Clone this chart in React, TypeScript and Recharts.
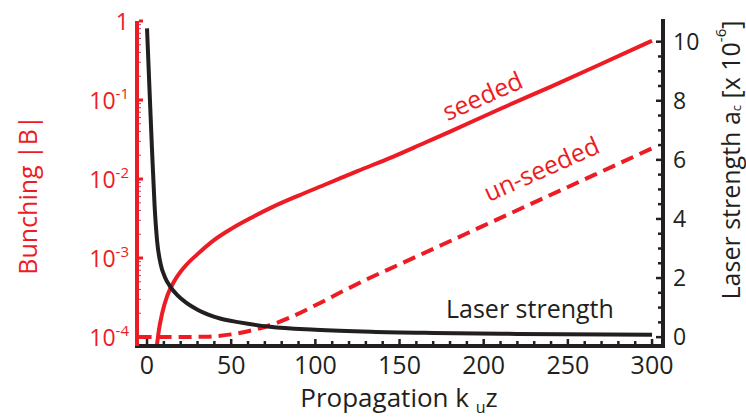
import { ComposedChart, Line, XAxis, YAxis } from 'recharts';

const RED = '#ed1c24';
const INK = '#231f20';
const FONT = '"Open Sans", sans-serif';

// seeded bunching |B| vs propagation k_u z
const seededZ = [5.8, 7, 9, 12, 16, 22, 30, 40, 50, 62, 75, 90, 107, 125, 146, 165, 180, 210, 240, 270, 300];
const seededB = [7.6e-5, 1.2e-4, 2.0e-4, 3.31e-4, 5.0e-4, 7.6e-4, 1.12e-3, 1.7e-3, 2.34e-3, 3.24e-3, 4.47e-3, 6.17e-3, 8.71e-3, 1.26e-2, 1.91e-2, 2.88e-2, 3.98e-2, 7.76e-2, 0.148, 0.288, 0.562];

// un-seeded bunching
const unseededZ = [-5, 20, 35, 50, 62, 73, 85, 100, 115, 130, 150, 175, 200, 233, 265, 300];
const unseededB = [1e-4, 1e-4, 1.01e-4, 1.08e-4, 1.21e-4, 1.41e-4, 1.77e-4, 2.52e-4, 3.68e-4, 5.3e-4, 8.32e-4, 1.46e-3, 2.57e-3, 5.41e-3, 1.11e-2, 2.45e-2];

// laser strength a_c [x 10^-6]
const laserZ = [0, 1.5, 3, 4.5, 6, 8, 10.7, 13.7, 18, 23.6, 30, 36, 43.4, 55, 73, 100, 133, 170, 220, 300];
const laserA = [10.45, 8.35, 6.3, 4.45, 3.25, 2.5, 2.02, 1.72, 1.42, 1.15, 0.93, 0.77, 0.63, 0.5, 0.35, 0.25, 0.18, 0.14, 0.11, 0.08];

const xTicks = [0, 10, 20, 30, 40, 50, 60, 70, 80, 90, 100, 110, 120, 130, 140, 150, 160, 170, 180, 190, 200, 210, 220, 230, 240, 250, 260, 270, 280, 290, 300];
const xLabels = [0, 50, 100, 150, 200, 250, 300];

const bunchMajor = [1e-4, 1e-3, 1e-2, 1e-1, 1];
const bunchMinor = [
  2e-4, 3e-4, 4e-4, 5e-4, 6e-4, 7e-4, 8e-4, 9e-4,
  2e-3, 3e-3, 4e-3, 5e-3, 6e-3, 7e-3, 8e-3, 9e-3,
  2e-2, 3e-2, 4e-2, 5e-2, 6e-2, 7e-2, 8e-2, 9e-2,
  0.2, 0.3, 0.4, 0.5, 0.6, 0.7, 0.8, 0.9,
];

const laserTicks = [0, 0.5, 1, 1.5, 2, 2.5, 3, 3.5, 4, 4.5, 5, 5.5, 6, 6.5, 7, 7.5, 8, 8.5, 9, 9.5, 10];
const laserLabels = [0, 2, 4, 6, 8, 10];

const seeded = seededZ.map((x, i) => ({ x, b: seededB[i] }));
const unseeded = unseededZ.map((x, i) => ({ x, b: unseededB[i] }));
const laser = laserZ.map((x, i) => ({ x, a: laserA[i] }));

const BottomTick = ({ x, y, payload }: any) => {
  const major = xLabels.includes(payload.value);
  return (
    <g>
      <line x1={x} x2={x} y1={y - 2} y2={y - (major ? 7 : 5)} stroke={INK} strokeWidth={2.5} />
      {major && (
        <text x={x} y={y + 28} textAnchor="middle" fill={INK} fontSize={25} fontFamily={FONT}>
          {payload.value}
        </text>
      )}
    </g>
  );
};

const TopTick = ({ x, y, payload }: any) => {
  const major = xLabels.includes(payload.value);
  return <line x1={x} x2={x} y1={y + 2} y2={y + (major ? 7 : 5)} stroke={INK} strokeWidth={2.5} />;
};

const LeftTick = ({ x, y, payload }: any) => {
  const v = payload.value;
  const major = bunchMajor.includes(v);
  const exp = Math.round(Math.log10(v));
  return (
    <g>
      <line x1={x + 2} x2={x + (major ? 6 : 4)} y1={y} y2={y} stroke={major ? RED : '#9a4a8c'} strokeWidth={major ? 3 : 1} />
      {major && (
        <text x={x - 8} y={y + 9} textAnchor="end" fill={RED} fontSize={23} fontFamily={FONT}>
          {exp === 0 ? '1' : (
            <>
              10<tspan dy={-10} fontSize={15}>{exp}</tspan>
            </>
          )}
        </text>
      )}
    </g>
  );
};

const RightTick = ({ x, y, payload }: any) => {
  const major = laserLabels.includes(payload.value);
  return (
    <g>
      <line x1={x - 2} x2={x - (major ? 7 : 5)} y1={y} y2={y} stroke={INK} strokeWidth={2.5} />
      {major && (
        <text x={x + 10} y={y + 8} textAnchor="start" fill={INK} fontSize={23} fontFamily={FONT}>
          {payload.value}
        </text>
      )}
    </g>
  );
};

export default function App() {
  return (
    <div style={{ position: 'relative', width: 746, height: 418, background: '#fff' }}>
      <style>{'body{margin:0}'}</style>
      <ComposedChart width={746} height={418} margin={{ top: 21, right: 0, bottom: 0, left: 0 }}>
        <Line data={seeded} xAxisId="b" yAxisId="left" dataKey="b" type="monotone" stroke={RED} strokeWidth={4} dot={false} isAnimationActive={false} />
        <Line data={unseeded} xAxisId="b" yAxisId="left" dataKey="b" type="monotone" stroke={RED} strokeWidth={4} strokeDasharray="13 7" dot={false} isAnimationActive={false} />
        <Line data={laser} xAxisId="b" yAxisId="right" dataKey="a" type="monotone" stroke={INK} strokeWidth={4} dot={false} isAnimationActive={false} />

        <XAxis
          xAxisId="b"
          dataKey="x"
          type="number"
          domain={[-5.95, 306.5]}
          allowDataOverflow
          ticks={xTicks}
          interval={0}
          height={72}
          tickLine={false}
          tickSize={0}
          tickMargin={0}
          axisLine={{ stroke: INK, strokeWidth: 4, strokeLinecap: 'square' }}
          tick={BottomTick}
        />
        <XAxis
          xAxisId="t"
          orientation="top"
          dataKey="x"
          type="number"
          domain={[-5.95, 306.5]}
          allowDataOverflow
          ticks={xTicks}
          interval={0}
          height={0}
          tickLine={false}
          tickSize={0}
          tickMargin={0}
          axisLine={{ stroke: INK, strokeWidth: 4, strokeLinecap: 'square' }}
          tick={TopTick}
        />
        <YAxis
          yAxisId="right"
          orientation="right"
          type="number"
          domain={[-0.3, 10.7]}
          allowDataOverflow
          ticks={laserTicks}
          interval={0}
          width={83}
          tickLine={false}
          tickSize={0}
          tickMargin={0}
          axisLine={{ stroke: INK, strokeWidth: 4, strokeLinecap: 'square' }}
          tick={RightTick}
        />
        <YAxis
          yAxisId="left"
          scale="log"
          type="number"
          domain={[7.7e-5, 1]}
          allowDataOverflow
          ticks={[...bunchMajor, ...bunchMinor]}
          interval={0}
          width={137}
          tickLine={false}
          tickSize={0}
          tickMargin={0}
          axisLine={{ stroke: RED, strokeWidth: 4 }}
          tick={LeftTick}
        />
      </ComposedChart>

      <svg width={746} height={418} style={{ position: 'absolute', left: 0, top: 0, pointerEvents: 'none' }} fontFamily={FONT}>
        <text x={27} y={195} transform="rotate(-90 27 195)" textAnchor="middle" dominantBaseline="central" fill={RED} fontSize={25}>
          Bunching |B|
        </text>
        <text x={730} y={160} transform="rotate(-90 730 160)" textAnchor="middle" dominantBaseline="central" fill={INK} fontSize={25}>
          Laser strength a<tspan dy={6} fontSize={13}>c</tspan>
          <tspan dy={-6}> [x 10</tspan>
          <tspan dy={-10} fontSize={15}>-6</tspan>
          <tspan dy={10}>]</tspan>
        </text>
        <text x={399} y={407} textAnchor="middle" fill={INK} fontSize={26}>
          Propagation k <tspan dy={6} fontSize={16}>u</tspan>
          <tspan dy={-6}>z</tspan>
        </text>
        <text x={482} y={95} transform="rotate(-24 482 95)" textAnchor="middle" dominantBaseline="central" fill={RED} fontSize={25}>
          seeded
        </text>
        <text x={541} y={168} transform="rotate(-24 541 168)" textAnchor="middle" dominantBaseline="central" fill={RED} fontSize={25}>
          un-seeded
        </text>
        <text x={446} y={318} fill={INK} fontSize={25}>
          Laser strength
        </text>
      </svg>
    </div>
  );
}
